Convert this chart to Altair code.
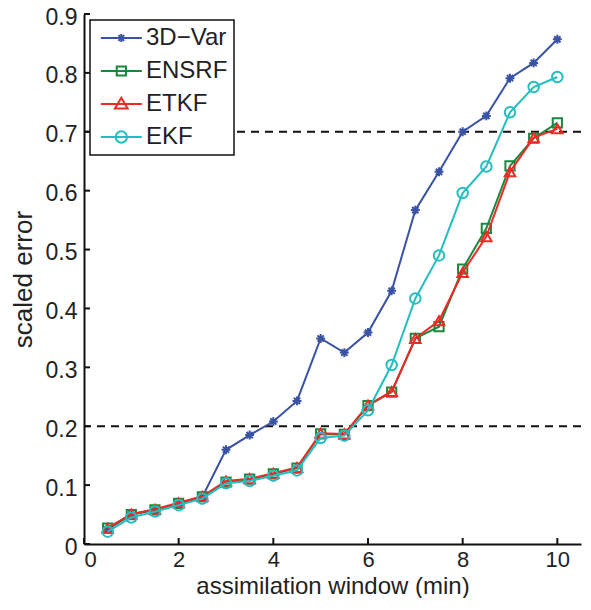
import altair as alt
import pandas as pd

# ---- data ----
x_vals = [0.5, 1, 1.5, 2, 2.5, 3, 3.5, 4, 4.5, 5, 5.5, 6, 6.5, 7, 7.5, 8, 8.5, 9, 9.5, 10]
var3d = [0.025, 0.050, 0.058, 0.069, 0.080, 0.160, 0.185, 0.208, 0.243, 0.349, 0.325,
         0.359, 0.430, 0.567, 0.632, 0.700, 0.727, 0.791, 0.817, 0.857]
ensrf = [0.027, 0.050, 0.058, 0.069, 0.080, 0.105, 0.110, 0.119, 0.129, 0.187, 0.186,
         0.235, 0.258, 0.349, 0.369, 0.467, 0.536, 0.642, 0.689, 0.715]
etkf = [0.027, 0.051, 0.059, 0.070, 0.081, 0.107, 0.111, 0.120, 0.130, 0.188, 0.187,
        0.236, 0.259, 0.349, 0.379, 0.461, 0.522, 0.632, 0.690, 0.705]
ekf = [0.021, 0.045, 0.055, 0.066, 0.077, 0.103, 0.107, 0.116, 0.125, 0.180, 0.184,
       0.227, 0.304, 0.417, 0.490, 0.596, 0.641, 0.733, 0.776, 0.793]

series_names = ["3D\u2212Var", "ENSRF", "ETKF", "EKF"]
series_values = [var3d, ensrf, etkf, ekf]
colors = ["#3a52a3", "#17893d", "#ee2a26", "#25bdc0"]

ref_levels = [0.2, 0.7]
y_ticks = [0, 0.1, 0.2, 0.3, 0.4, 0.5, 0.6, 0.7, 0.8, 0.9]
x_ticks = [0, 2, 4, 6, 8, 10]

# marker shapes
asterisk = "M-1,0L1,0M0,-1L0,1M-0.7,-0.7L0.7,0.7M-0.7,0.7L0.7,-0.7"
marker_shapes = [asterisk, "square", "triangle-up", "circle"]
marker_sizes = [80, 85, 110, 110]

# legend symbols: line segment + marker (unit ~10 px)
legend_paths = [
    "M-0.7,0L3.3,0M0.9,0L1.7,0M1.3,-0.4L1.3,0.4M1.02,-0.28L1.58,0.28M1.02,0.28L1.58,-0.28",
    "M-0.7,0L3.3,0M0.85,-0.45L1.75,-0.45L1.75,0.45L0.85,0.45Z",
    "M-0.7,0L3.3,0M1.3,-0.62L1.92,0.45L0.68,0.45Z",
    "M-0.7,0L3.3,0M1.85,0A0.55,0.55,0,1,1,0.75,0A0.55,0.55,0,1,1,1.85,0",
]

FONT = "Liberation Sans"
W, H = 497, 530

rows = []
for name, vals in zip(series_names, series_values):
    for xv, yv in zip(x_vals, vals):
        rows.append({"series": name, "x": xv, "y": yv})
df = pd.DataFrame(rows)

xscale = alt.Scale(domain=[0, 10.5], nice=False, zero=False)
yscale = alt.Scale(domain=[0, 0.9], nice=False)
cscale = alt.Scale(domain=series_names, range=colors)
sscale = alt.Scale(domain=series_names, range=marker_shapes)

x_axis = alt.Axis(values=x_ticks, title="assimilation window (min)", labelPadding=5,
                  labelFontSize=22, titleY=49, titleBaseline="alphabetic", titleFontSize=24,
                  ticks=False, grid=False)
y_axis = alt.Axis(values=y_ticks, title="scaled error", labelPadding=7, titlePadding=9,
                  labelOffset=3, ticks=False, grid=False,
                  labelExpr="datum.value == 0 ? '0' : format(datum.value, '.1f')")

X = alt.X("x:Q", scale=xscale, axis=x_axis)
Y = alt.Y("y:Q", scale=yscale, axis=y_axis)

# dashed reference lines
ref_df = pd.DataFrame({"y": ref_levels})
refs = alt.Chart(ref_df).mark_rule(color="#111", strokeWidth=2, strokeDash=[8, 6]).encode(
    y=alt.Y("y:Q", scale=yscale, axis=y_axis)
)

# inward ticks
yt = alt.Chart(pd.DataFrame({"y": y_ticks})).mark_rule(color="#111", strokeWidth=2).encode(
    y=alt.Y("y:Q", scale=yscale, axis=y_axis), x=alt.value(0), x2=alt.value(6)
)
xt = alt.Chart(pd.DataFrame({"x": x_ticks})).mark_rule(color="#111", strokeWidth=2).encode(
    x=alt.X("x:Q", scale=xscale, axis=x_axis), y=alt.value(H), y2=alt.value(H - 6)
)

layers = [refs, yt, xt]
for name, size in zip(series_names, marker_sizes):
    sub = df[df["series"] == name]
    base = alt.Chart(sub)
    line = base.mark_line(strokeWidth=2).encode(
        x=X, y=Y, color=alt.Color("series:N", scale=cscale, legend=None)
    )
    pts = base.mark_point(filled=False, strokeWidth=2, size=size, opacity=1).encode(
        x=X, y=Y,
        color=alt.Color("series:N", scale=cscale, legend=None),
        shape=alt.Shape("series:N", scale=sscale, legend=None),
    )
    layers += [line, pts]

leg = alt.Legend(title=None, orient="none", legendX=6, legendY=6, padding=6,
                 strokeColor="#111", fillColor="white", symbolSize=420,
                 symbolStrokeWidth=2, labelFontSize=24, labelFont=FONT,
                 labelColor="#222", labelOffset=26, rowPadding=9)
legend_layer = alt.Chart(pd.DataFrame({"label": series_names})).transform_filter(
    "datum.label == null"
).mark_point(filled=False, strokeWidth=2, opacity=1).encode(
    color=alt.Color("label:N", scale=alt.Scale(domain=series_names, range=colors), legend=leg),
    shape=alt.Shape("label:N", scale=alt.Scale(domain=series_names, range=legend_paths), legend=leg),
)
layers.append(legend_layer)

chart = alt.layer(*layers).resolve_scale(
    color="independent", shape="independent"
).properties(
    width=W, height=H,
    autosize=alt.AutoSizeParams(type="none"),
    padding={"left": 76, "top": 6, "right": 2, "bottom": 54},
).configure_view(stroke=None).configure_axis(
    domainColor="#111", domainWidth=2, labelFontSize=23, labelFont=FONT, labelColor="#222",
    titleFontSize=26, titleFont=FONT, titleColor="#222", titleFontWeight="normal",
).configure_legend(strokeWidth=1.5)

chart.save("out.html", embed_options={"renderer": "svg", "actions": False})
